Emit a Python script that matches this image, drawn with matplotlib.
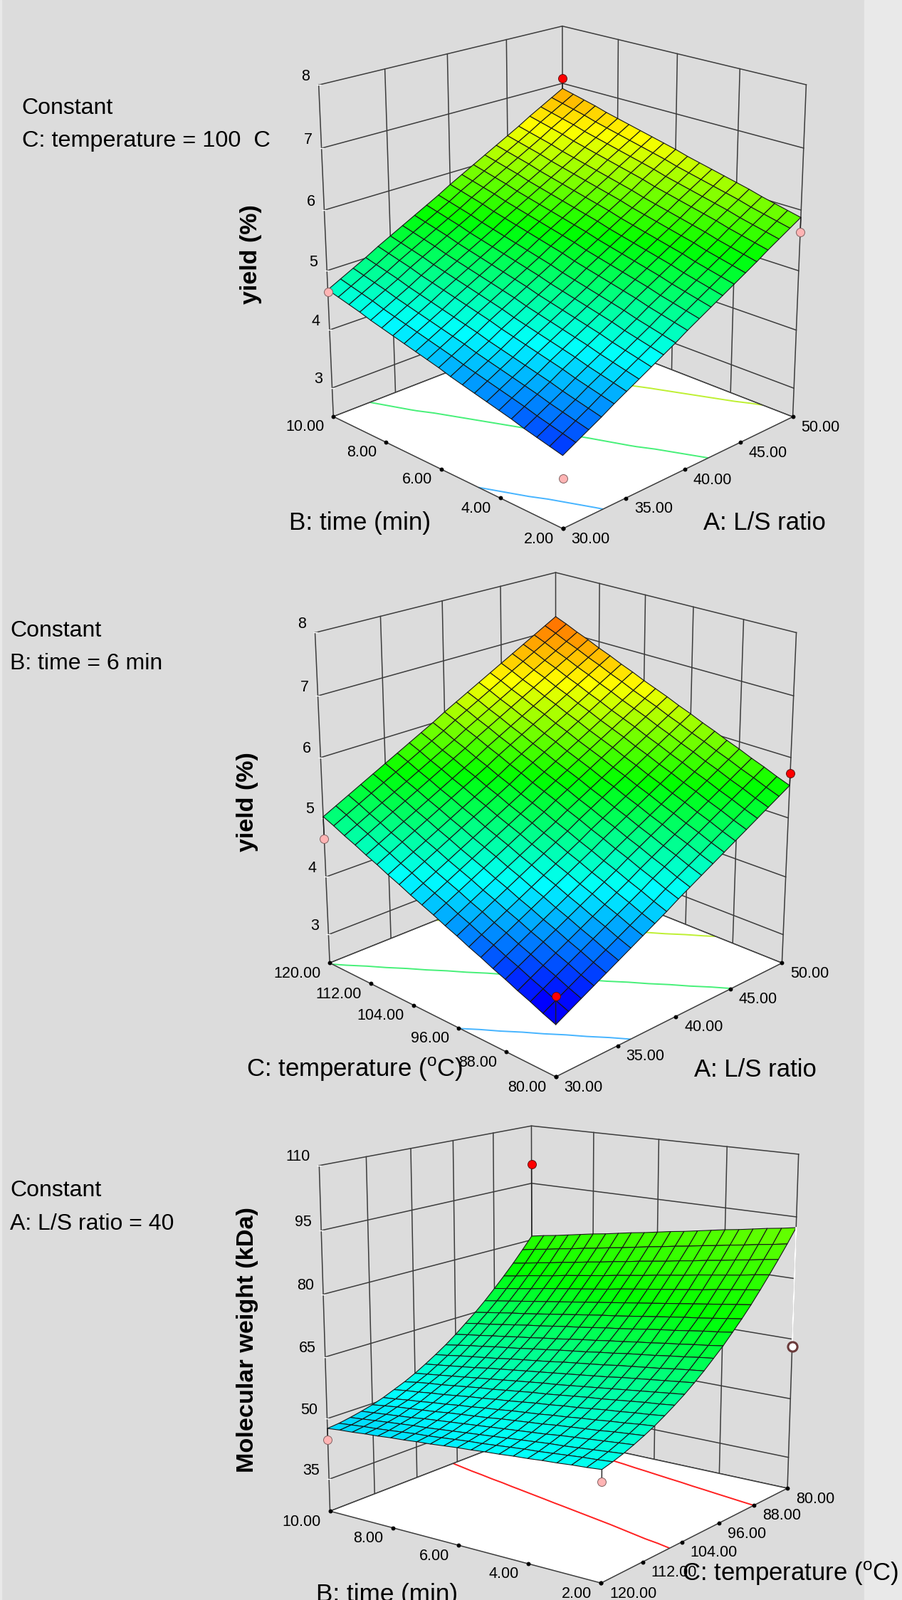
import numpy as np
import matplotlib
matplotlib.use('Agg')
import matplotlib.pyplot as plt
from matplotlib.colors import LinearSegmentedColormap, Normalize
from matplotlib.patches import Rectangle
from matplotlib.transforms import offset_copy
from mpl_toolkits.mplot3d import proj3d
from mpl_toolkits.mplot3d.art3d import Poly3DCollection

plt.rcParams['font.family'] = ['Liberation Sans', 'DejaVu Sans']
plt.rcParams['mathtext.fontset'] = 'custom'
plt.rcParams['mathtext.rm'] = 'Liberation Sans'

W, H = 1267, 2247

# grid of the factors
ls_grid = [30, 31, 32, 33, 34, 35, 36, 37, 38, 39, 40, 41, 42, 43, 44, 45, 46, 47, 48, 49, 50]
time_grid = [2.0, 2.4, 2.8, 3.2, 3.6, 4.0, 4.4, 4.8, 5.2, 5.6, 6.0, 6.4, 6.8, 7.2, 7.6, 8.0, 8.4, 8.8, 9.2, 9.6, 10.0]
temp_grid = [80, 82, 84, 86, 88, 90, 92, 94, 96, 98, 100, 102, 104, 106, 108, 110, 112, 114, 116, 118, 120]
temp_grid_rev = [120, 118, 116, 114, 112, 110, 108, 106, 104, 102, 100, 98, 96, 94, 92, 90, 88, 86, 84, 82, 80]

ls_ticks = [30, 35, 40, 45, 50]
time_ticks = [2, 4, 6, 8, 10]
temp_ticks = [80, 88, 96, 104, 112, 120]
yield_ticks = [3, 4, 5, 6, 7, 8]
mw_ticks = [35, 50, 65, 80, 95, 110]

# yield against L/S ratio (columns) and time (rows)
yield_ls_time = [
    [3.65,3.76,3.87,3.98,4.10,4.21,4.32,4.43,4.54,4.65,4.77,4.88,4.99,5.10,5.21,5.32,5.43,5.55,5.66,5.77,5.88],
    [3.70,3.81,3.92,4.03,4.15,4.26,4.37,4.48,4.59,4.70,4.82,4.93,5.04,5.15,5.26,5.37,5.48,5.60,5.71,5.82,5.93],
    [3.75,3.86,3.97,4.08,4.20,4.31,4.42,4.53,4.64,4.75,4.87,4.98,5.09,5.20,5.31,5.42,5.53,5.65,5.76,5.87,5.98],
    [3.80,3.91,4.02,4.13,4.25,4.36,4.47,4.58,4.69,4.80,4.92,5.03,5.14,5.25,5.36,5.47,5.58,5.70,5.81,5.92,6.03],
    [3.86,3.97,4.08,4.19,4.31,4.42,4.53,4.64,4.75,4.86,4.98,5.09,5.20,5.31,5.42,5.53,5.64,5.76,5.87,5.98,6.09],
    [3.91,4.02,4.13,4.24,4.36,4.47,4.58,4.69,4.80,4.91,5.03,5.14,5.25,5.36,5.47,5.58,5.69,5.81,5.92,6.03,6.14],
    [3.96,4.07,4.18,4.29,4.41,4.52,4.63,4.74,4.85,4.96,5.08,5.19,5.30,5.41,5.52,5.63,5.74,5.86,5.97,6.08,6.19],
    [4.01,4.12,4.23,4.34,4.46,4.57,4.68,4.79,4.90,5.01,5.13,5.24,5.35,5.46,5.57,5.68,5.79,5.91,6.02,6.13,6.24],
    [4.06,4.17,4.28,4.39,4.51,4.62,4.73,4.84,4.95,5.06,5.18,5.29,5.40,5.51,5.62,5.73,5.84,5.96,6.07,6.18,6.29],
    [4.11,4.22,4.33,4.44,4.56,4.67,4.78,4.89,5.00,5.11,5.23,5.34,5.45,5.56,5.67,5.78,5.89,6.01,6.12,6.23,6.34],
    [4.17,4.28,4.39,4.50,4.62,4.73,4.84,4.95,5.06,5.17,5.29,5.40,5.51,5.62,5.73,5.84,5.95,6.07,6.18,6.29,6.40],
    [4.22,4.33,4.44,4.55,4.67,4.78,4.89,5.00,5.11,5.22,5.34,5.45,5.56,5.67,5.78,5.89,6.00,6.12,6.23,6.34,6.45],
    [4.27,4.38,4.49,4.60,4.72,4.83,4.94,5.05,5.16,5.27,5.39,5.50,5.61,5.72,5.83,5.94,6.05,6.17,6.28,6.39,6.50],
    [4.32,4.43,4.54,4.65,4.77,4.88,4.99,5.10,5.21,5.32,5.44,5.55,5.66,5.77,5.88,5.99,6.10,6.22,6.33,6.44,6.55],
    [4.37,4.48,4.59,4.70,4.82,4.93,5.04,5.15,5.26,5.37,5.49,5.60,5.71,5.82,5.93,6.04,6.15,6.27,6.38,6.49,6.60],
    [4.42,4.53,4.64,4.75,4.87,4.98,5.09,5.20,5.31,5.42,5.54,5.65,5.76,5.87,5.98,6.09,6.20,6.32,6.43,6.54,6.65],
    [4.47,4.58,4.69,4.80,4.92,5.03,5.14,5.25,5.36,5.47,5.59,5.70,5.81,5.92,6.03,6.14,6.25,6.37,6.48,6.59,6.70],
    [4.53,4.64,4.75,4.86,4.98,5.09,5.20,5.31,5.42,5.53,5.65,5.76,5.87,5.98,6.09,6.20,6.31,6.43,6.54,6.65,6.76],
    [4.58,4.69,4.80,4.91,5.03,5.14,5.25,5.36,5.47,5.58,5.70,5.81,5.92,6.03,6.14,6.25,6.36,6.48,6.59,6.70,6.81],
    [4.63,4.74,4.85,4.96,5.08,5.19,5.30,5.41,5.52,5.63,5.75,5.86,5.97,6.08,6.19,6.30,6.41,6.53,6.64,6.75,6.86],
    [4.68,4.79,4.90,5.01,5.13,5.24,5.35,5.46,5.57,5.68,5.80,5.91,6.02,6.13,6.24,6.35,6.46,6.58,6.69,6.80,6.91],
]

# yield against L/S ratio (columns) and temperature (rows)
yield_ls_temp = [
    [3.33,3.44,3.55,3.66,3.77,3.88,3.99,4.10,4.21,4.32,4.44,4.55,4.66,4.77,4.88,4.99,5.10,5.21,5.32,5.43,5.54],
    [3.41,3.52,3.63,3.74,3.85,3.96,4.07,4.18,4.29,4.40,4.52,4.63,4.74,4.85,4.96,5.07,5.18,5.29,5.40,5.51,5.62],
    [3.50,3.61,3.72,3.83,3.94,4.05,4.16,4.27,4.38,4.49,4.61,4.72,4.83,4.94,5.05,5.16,5.27,5.38,5.49,5.60,5.71],
    [3.58,3.69,3.80,3.91,4.02,4.13,4.24,4.35,4.46,4.57,4.69,4.80,4.91,5.02,5.13,5.24,5.35,5.46,5.57,5.68,5.79],
    [3.67,3.78,3.89,4.00,4.11,4.22,4.33,4.44,4.55,4.66,4.78,4.89,5.00,5.11,5.22,5.33,5.44,5.55,5.66,5.77,5.88],
    [3.75,3.86,3.97,4.08,4.19,4.30,4.41,4.52,4.63,4.74,4.86,4.97,5.08,5.19,5.30,5.41,5.52,5.63,5.74,5.85,5.96],
    [3.84,3.95,4.06,4.17,4.28,4.39,4.50,4.61,4.72,4.83,4.95,5.06,5.17,5.28,5.39,5.50,5.61,5.72,5.83,5.94,6.05],
    [3.92,4.03,4.14,4.25,4.36,4.47,4.58,4.69,4.80,4.91,5.03,5.14,5.25,5.36,5.47,5.58,5.69,5.80,5.91,6.02,6.13],
    [4.01,4.12,4.23,4.34,4.45,4.56,4.67,4.78,4.89,5.00,5.12,5.23,5.34,5.45,5.56,5.67,5.78,5.89,6.00,6.11,6.22],
    [4.09,4.20,4.31,4.42,4.53,4.64,4.75,4.86,4.97,5.08,5.20,5.31,5.42,5.53,5.64,5.75,5.86,5.97,6.08,6.19,6.30],
    [4.18,4.29,4.40,4.51,4.62,4.73,4.84,4.95,5.06,5.17,5.29,5.40,5.51,5.62,5.73,5.84,5.95,6.06,6.17,6.28,6.39],
    [4.26,4.37,4.48,4.59,4.70,4.81,4.92,5.03,5.14,5.25,5.37,5.48,5.59,5.70,5.81,5.92,6.03,6.14,6.25,6.36,6.47],
    [4.34,4.45,4.56,4.67,4.78,4.89,5.00,5.11,5.22,5.33,5.45,5.56,5.67,5.78,5.89,6.00,6.11,6.22,6.33,6.44,6.55],
    [4.43,4.54,4.65,4.76,4.87,4.98,5.09,5.20,5.31,5.42,5.54,5.65,5.76,5.87,5.98,6.09,6.20,6.31,6.42,6.53,6.64],
    [4.51,4.62,4.73,4.84,4.95,5.06,5.17,5.28,5.39,5.50,5.62,5.73,5.84,5.95,6.06,6.17,6.28,6.39,6.50,6.61,6.72],
    [4.60,4.71,4.82,4.93,5.04,5.15,5.26,5.37,5.48,5.59,5.71,5.82,5.93,6.04,6.15,6.26,6.37,6.48,6.59,6.70,6.81],
    [4.68,4.79,4.90,5.01,5.12,5.23,5.34,5.45,5.56,5.67,5.79,5.90,6.01,6.12,6.23,6.34,6.45,6.56,6.67,6.78,6.89],
    [4.77,4.88,4.99,5.10,5.21,5.32,5.43,5.54,5.65,5.76,5.88,5.99,6.10,6.21,6.32,6.43,6.54,6.65,6.76,6.87,6.98],
    [4.85,4.96,5.07,5.18,5.29,5.40,5.51,5.62,5.73,5.84,5.96,6.07,6.18,6.29,6.40,6.51,6.62,6.73,6.84,6.95,7.06],
    [4.94,5.05,5.16,5.27,5.38,5.49,5.60,5.71,5.82,5.93,6.05,6.16,6.27,6.38,6.49,6.60,6.71,6.82,6.93,7.04,7.15],
    [5.02,5.13,5.24,5.35,5.46,5.57,5.68,5.79,5.90,6.01,6.13,6.24,6.35,6.46,6.57,6.68,6.79,6.90,7.01,7.12,7.23],
]

# molecular weight against temperature (columns, 120 to 80) and time (rows)
mw_temp_time = [
    [52.7,53.4,54.2,55.2,56.3,57.5,58.9,60.4,62.0,63.8,65.7,67.8,69.9,72.3,74.7,77.3,80.1,83.0,86.0,89.1,92.4],
    [52.4,53.1,53.9,54.9,56.0,57.2,58.5,60.0,61.6,63.4,65.3,67.4,69.4,71.8,74.2,76.8,79.6,82.5,85.5,88.5,91.8],
    [52.2,52.9,53.6,54.6,55.7,56.8,58.2,59.7,61.2,63.0,64.9,66.9,69.0,71.4,73.7,76.3,79.1,81.9,84.9,88.0,91.3],
    [51.9,52.6,53.3,54.3,55.3,56.5,57.8,59.3,60.8,62.6,64.4,66.5,68.5,70.9,73.2,75.8,78.6,81.4,84.4,87.4,90.7],
    [51.7,52.3,53.0,54.0,55.0,56.1,57.5,58.9,60.4,62.2,64.0,66.0,68.1,70.4,72.8,75.3,78.0,80.9,83.8,86.9,90.1],
    [51.4,52.0,52.8,53.7,54.7,55.8,57.1,58.5,60.0,61.8,63.6,65.6,67.6,70.0,72.3,74.8,77.5,80.4,83.3,86.3,89.6],
    [51.2,51.8,52.5,53.3,54.4,55.4,56.7,58.2,59.6,61.3,63.2,65.2,67.2,69.5,71.8,74.3,77.0,79.8,82.7,85.8,89.0],
    [50.9,51.5,52.2,53.0,54.0,55.1,56.4,57.8,59.2,60.9,62.7,64.7,66.7,69.0,71.3,73.8,76.5,79.3,82.2,85.2,88.4],
    [50.7,51.2,51.9,52.7,53.7,54.7,56.0,57.4,58.8,60.5,62.3,64.3,66.3,68.5,70.8,73.3,76.0,78.8,81.6,84.7,87.8],
    [50.4,50.9,51.6,52.4,53.4,54.4,55.7,57.0,58.4,60.1,61.9,63.8,65.8,68.1,70.3,72.8,75.5,78.2,81.1,84.1,87.3],
    [50.2,50.7,51.3,52.1,53.1,54.1,55.3,56.7,58.1,59.7,61.5,63.4,65.4,67.6,69.9,72.3,75.0,77.7,80.6,83.6,86.7],
    [49.9,50.4,51.0,51.8,52.7,53.7,54.9,56.3,57.7,59.3,61.0,63.0,64.9,67.1,69.4,71.8,74.4,77.2,80.0,83.0,86.1],
    [49.6,50.1,50.7,51.5,52.4,53.4,54.6,55.9,57.3,58.9,60.6,62.5,64.4,66.7,68.9,71.3,73.9,76.6,79.5,82.4,85.6],
    [49.4,49.8,50.4,51.2,52.1,53.0,54.2,55.5,56.9,58.5,60.2,62.1,64.0,66.2,68.4,70.8,73.4,76.1,78.9,81.9,85.0],
    [49.1,49.6,50.1,50.9,51.8,52.7,53.9,55.2,56.5,58.1,59.8,61.6,63.5,65.7,67.9,70.3,72.9,75.6,78.4,81.3,84.4],
    [48.9,49.3,49.9,50.6,51.4,52.3,53.5,54.8,56.1,57.7,59.3,61.2,63.1,65.3,67.4,69.8,72.4,75.1,77.8,80.8,83.9],
    [48.6,49.0,49.6,50.2,51.1,52.0,53.1,54.4,55.7,57.2,58.9,60.8,62.6,64.8,66.9,69.3,71.9,74.5,77.3,80.2,83.3],
    [48.4,48.7,49.3,49.9,50.8,51.6,52.8,54.0,55.3,56.8,58.5,60.3,62.2,64.3,66.5,68.8,71.3,74.0,76.7,79.7,82.7],
    [48.1,48.5,49.0,49.6,50.5,51.3,52.4,53.7,54.9,56.4,58.1,59.9,61.7,63.8,66.0,68.3,70.8,73.5,76.2,79.1,82.1],
    [47.9,48.2,48.7,49.3,50.1,50.9,52.1,53.3,54.5,56.0,57.6,59.4,61.3,63.4,65.5,67.8,70.3,72.9,75.6,78.6,81.6],
    [47.6,47.9,48.4,49.0,49.7,50.6,51.7,52.8,54.1,55.6,57.2,58.9,60.8,62.9,65.0,67.3,69.8,72.4,75.1,78.0,81.0],
]

# design points: x, y, response, surface height at the same place
points1_x = [50, 50, 30, 30]
points1_y = [10, 2, 10, 2]
points1_z = [7.09, 5.64, 4.64, 3.29]
points1_s = [6.91, 5.88, 4.68, 3.65]
points1_c = ['red', 'pink', 'pink', 'pink_free']

points2_x = [50, 30, 30]
points2_y = [80, 120, 80]
points2_z = [5.74, 4.65, 3.77]
points2_s = [5.54, 5.02, 3.33]
points2_c = ['red', 'pink', 'red']

points3_x = [80, 80, 120, 120]
points3_y = [10, 2, 10, 2]
points3_z = [100.1, 63.2, 44.8, 50.0]
points3_s = [81.0, 92.4, 47.6, 52.7]
points3_c = ['red', 'hollow', 'pink', 'pink']

BLUE, CYAN, GREEN, YELLOW, RED = (0, 0, 1), (0, 1, 1), (0, 1, 0), (1, 1, 0), (1, 0, 0)


def make_cmap(stops):
    lo, hi = stops[0], stops[-1]
    pos = [(s - lo) / (hi - lo) for s in stops]
    cm = LinearSegmentedColormap.from_list('de', list(zip(pos, [BLUE, CYAN, GREEN, YELLOW, RED])))
    return cm, Normalize(lo, hi)


def to2d(ax, x, y, z):
    a, b, _ = proj3d.proj_transform(np.array([x], float), np.array([y], float), np.array([z], float), ax.get_proj())
    return float(a[0]), float(b[0])


def panel(xv, yv, zv, xt, yt, zt, xlim, ylim, zlim, view, mapping, stops, levels, level_colors, px, py, pz, ps, pc):
    ax = fig.add_axes([(W - H) / 2 / W, 0, H / W, 1], projection='3d', computed_zorder=False)
    ax.set_axis_off()
    ax.patch.set_visible(False)
    ax.set_xlim(*xlim)
    ax.set_ylim(*ylim)
    ax.set_zlim(*zlim)
    elev, azim, roll, focal, by, bz = view
    ax.view_init(elev=elev, azim=azim, roll=roll)
    ax.set_proj_type('persp', focal_length=focal)
    ax.set_box_aspect((1, by, bz))

    x0, x1 = xlim
    y0, y1 = ylim
    z0, z1 = zlim
    line = dict(color='#3c3c3c', lw=1.1, zorder=2)

    # walls at the far side, no fill
    for z in list(zt) + [z0]:
        ax.plot([x0, x1, x1], [y1, y1, y0], [z, z, z], **line)
    for x in xt:
        if x != x0:
            ax.plot([x, x], [y1, y1], [z0, z1], **line)
    for y in yt:
        if y != y1:
            ax.plot([x1, x1], [y, y], [z0, z1], **line)
    ax.plot([x0, x0], [y1, y1], [z0, z1], **line)
    ax.plot(np.full(len(zt), x0), np.full(len(zt), y1), zt, ls='none', marker='_', ms=4, color='white', zorder=3)

    # floor
    floor = Poly3DCollection([[(x0, y0, z0), (x1, y0, z0), (x1, y1, z0), (x0, y1, z0)]],
                             facecolor='white', edgecolor='none', zorder=3)
    ax.add_collection3d(floor)
    X, Y = np.meshgrid(xv, yv)
    Z = np.array(zv)
    ax.contour(X, Y, Z, levels=levels, zdir='z', offset=z0, colors=level_colors, linewidths=1.4, zorder=4)
    ax.plot([x0, x1, x1, x0, x0], [y0, y0, y1, y1, y0], [z0] * 5, color='#3c3c3c', lw=1.1, zorder=5)
    ax.plot(xt, np.full(len(xt), y0), np.full(len(xt), z0), ls='none', marker='o', ms=3.2, color='black', zorder=5)
    ax.plot(np.full(len(yt), x0), yt, np.full(len(yt), z0), ls='none', marker='o', ms=3.2, color='black', zorder=5)

    # response surface
    cm, nrm = make_cmap(stops)
    ax.plot_surface(X, Y, Z, facecolors=cm(nrm(Z)), rstride=1, cstride=1, shade=False,
                    edgecolor='#161616', linewidth=0.8, zorder=6)

    # tick labels, placed as plain text next to the projected tick
    trans_r = offset_copy(ax.transData, fig=fig, x=12, y=-15, units='dots')
    trans_l = offset_copy(ax.transData, fig=fig, x=-13, y=-15, units='dots')
    trans_z = offset_copy(ax.transData, fig=fig, x=-13, y=12, units='dots')
    for x in xt:
        a, b = to2d(ax, x, y0, z0)
        ax.text2D(a, b, f'{x:.2f}', transform=trans_r, ha='left', va='center', fontsize=15.5, zorder=8)
    for y in yt:
        a, b = to2d(ax, x0, y, z0)
        ax.text2D(a, b, f'{y:.2f}', transform=trans_l, ha='right', va='center', fontsize=15.5, zorder=8)
    for z in zt:
        a, b = to2d(ax, x0, y1, z)
        ax.text2D(a, b, str(z), transform=trans_z, ha='right', va='center', fontsize=15.5, zorder=8)

    # design points with the line to the surface
    for a, b, c, s, kind in zip(px, py, pz, ps, pc):
        if kind != 'pink_free':
            drop = 'white' if kind == 'hollow' else '#202020'
            ax.plot([a, a], [b, b], [c, s], color=drop, lw=1.5 if kind == 'hollow' else 1.0, zorder=7)
        if kind == 'red':
            ax.plot([a], [b], [c], 'o', ms=8.6, mfc='#ff0000', mec='#5a1010', mew=0.7, zorder=9)
        elif kind in ('pink', 'pink_free'):
            ax.plot([a], [b], [c], 'o', ms=8.6, mfc='#ffb4b4', mec='#806060', mew=0.7, zorder=9)
        else:
            ax.plot([a], [b], [c], 'o', ms=9.5, mfc='white', mec='#6a3a3a', mew=2.2, zorder=9)

    # map the projected coordinates to figure pixels
    sx, tx, sy, ty = mapping
    ax.viewLim.intervalx = (((W - H) / 2 - tx) / sx, ((W + H) / 2 - tx) / sx)
    ax.viewLim.intervaly = ((H - ty) / sy, (0 - ty) / sy)
    return ax


def label(px_x, px_y, s, **kw):
    fig.text(px_x / W, 1 - px_y / H, s, va='center', **kw)


fig = plt.figure(figsize=(W / 100, H / 100), dpi=100, facecolor='#dcdcdc')
fig.add_artist(Rectangle((1214 / W, 0), 53 / W, 1, transform=fig.transFigure, color='#e9e9e9', zorder=-5))
fig.add_artist(Rectangle((0, 0), 1.5 / W, 1, transform=fig.transFigure, color='#e9e9e9', zorder=-5))

yield_stops = [3.4, 4.4, 5.4, 6.4, 7.6]
yield_levels = [4, 5, 6]
yield_colors = ['#46b4ff', '#46f078', '#bef032']

panel(ls_grid, time_grid, yield_ls_time, ls_ticks, time_ticks, yield_ticks,
      (30, 50), (2, 10), (2.5, 8),
      (19.7631, -134.7854, 0.1194, 0.6295, 1.0055, 1.0105),
      (4281.251, 790.246, -4474.24, 359.088),
      yield_stops, yield_levels, yield_colors, points1_x, points1_y, points1_z, points1_s, points1_c)

panel(ls_grid, temp_grid, yield_ls_temp, ls_ticks, temp_ticks, yield_ticks,
      (30, 50), (80, 120), (2.5, 8),
      (20.3223, -134.9432, 0.0321, 0.6192, 1.0015, 1.0145),
      (4228.86, 780.595, -4451.439, 1127.635),
      yield_stops, yield_levels, yield_colors, points2_x, points2_y, points2_z, points2_s, points2_c)

panel(temp_grid_rev, time_grid, mw_temp_time, temp_ticks[::-1], time_ticks, mw_ticks,
      (120, 80), (2, 10), (27, 110),
      (14.6666, -143.7595, -0.0902, 0.6289, 0.99, 1.0881),
      (4415.036, 790.907, -4228.435, 1872.892),
      [30, 51, 73, 115, 160], [60, 80], ['#ff2020', '#ff2020'], points3_x, points3_y, points3_z, points3_s, points3_c)

# texts
deg_label = 'C: temperature ($^{\\mathrm{o}}$C)'
label(30.7, 152, 'Constant', fontsize=23)
label(30.7, 198, 'C: temperature = 100  C', fontsize=23.3)
label(352, 357, 'yield (%)', fontsize=24.5, fontweight='bold', rotation=90, ha='center')
label(505, 734, 'B: time (min)', fontsize=25.3, ha='center')
label(1074, 734, 'A: L/S ratio', fontsize=25, ha='center')

label(14.5, 886, 'Constant', fontsize=23)
label(14.5, 932, 'B: time = 6 min', fontsize=23)
label(347.4, 1126, 'yield (%)', fontsize=24.5, fontweight='bold', rotation=90, ha='center')
label(498, 1502, deg_label, fontsize=25, ha='center')
label(1060.6, 1503, 'A: L/S ratio', fontsize=25, ha='center')

label(14.5, 1672, 'Constant', fontsize=23)
label(14.5, 1719, 'A: L/S ratio = 40', fontsize=23)
label(347.4, 1881, 'Molecular weight (kDa)', fontsize=24.7, fontweight='bold', rotation=90, ha='center')
label(543, 2240, 'B: time (min)', fontsize=25.3, ha='center')
label(1110, 2210, deg_label, fontsize=25, ha='center')

fig.savefig('out.png', dpi=100, facecolor=fig.get_facecolor())
